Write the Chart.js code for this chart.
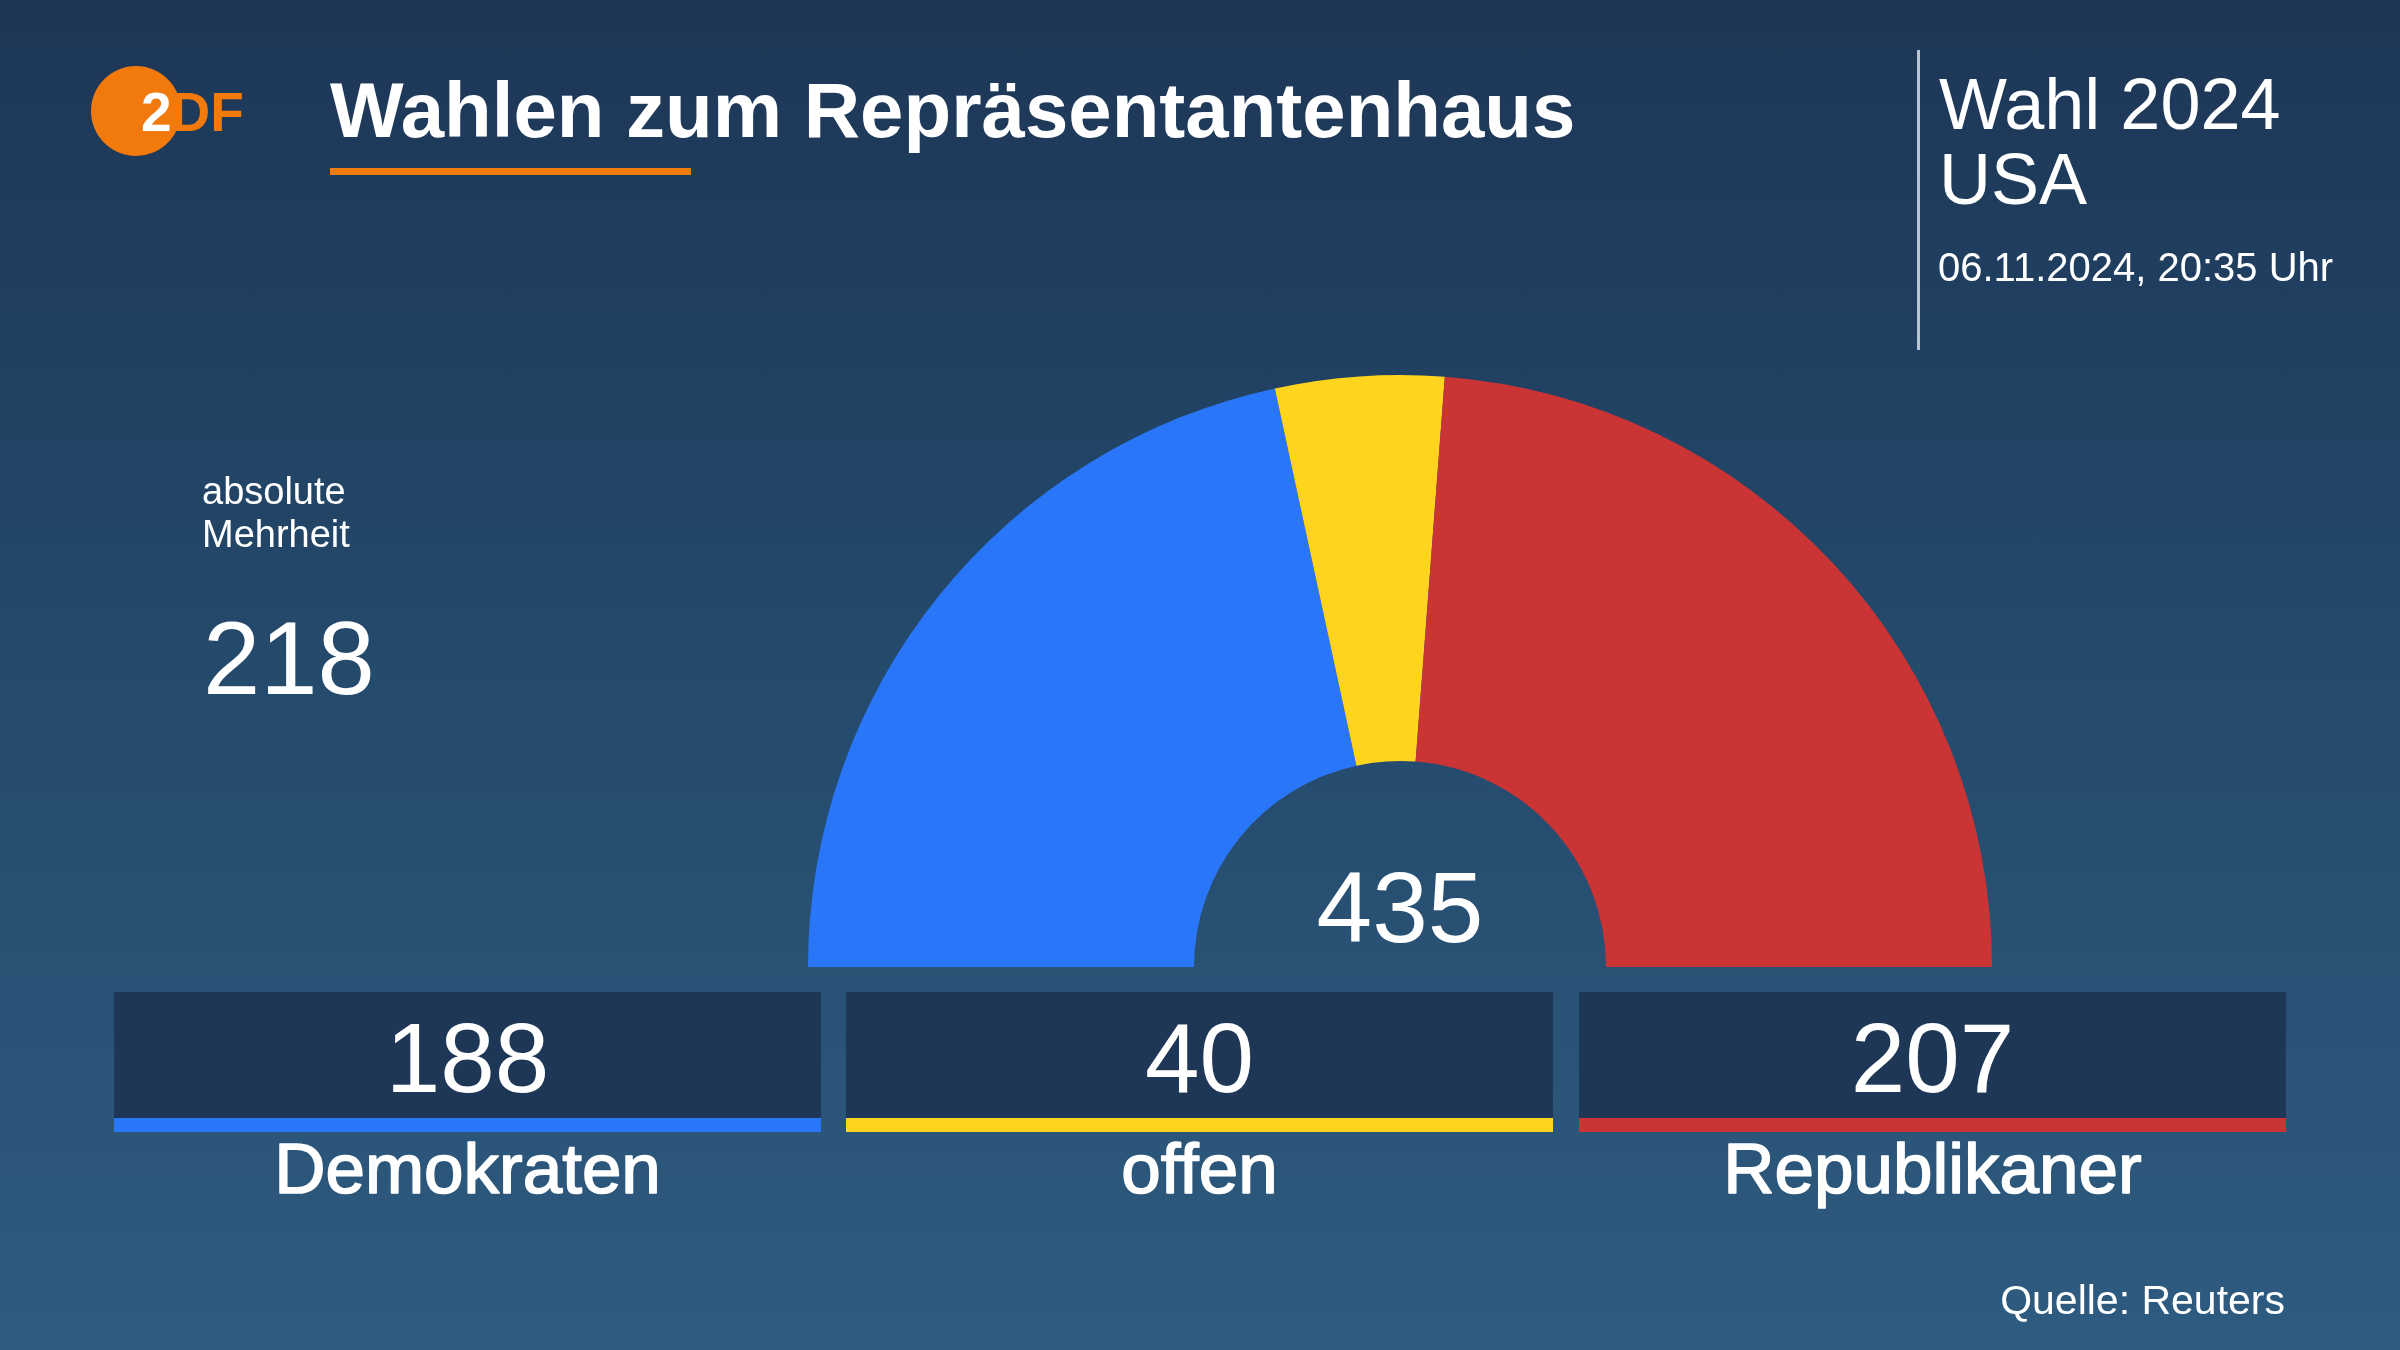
<!DOCTYPE html>
<html>
<head>
<meta charset="utf-8">
<script src="https://cdn.jsdelivr.net/npm/chart.js@4.4.1/dist/chart.umd.min.js"></script>
<style>
  html, body { margin: 0; padding: 0; }
  body {
    width: 2400px; height: 1350px; overflow: hidden;
    background: linear-gradient(180deg, #1d3656 0%, #244a6c 50%, #2e5b80 100%);
  }
  #wrap { position: absolute; left: 0; top: 0; width: 2400px; height: 1350px; }
</style>
</head>
<body>
<div id="wrap"><canvas id="c" width="2400" height="1350"></canvas></div>
<script>
// ---- data ----
const categories = ['Demokraten', 'offen', 'Republikaner'];
const seats = [188, 40, 207];
const seatColors = ['#2a76f8', '#fed41f', '#cb3435'];
const majority = 218;
const titleText = 'Wahlen zum Repräsentantenhaus';
const headerLines = ['Wahl 2024', 'USA'];
const dateText = '06.11.2024, 20:35 Uhr';
const majorityLabel = ['absolute', 'Mehrheit'];
const sourceText = 'Quelle: Reuters';

const FONT = '"Liberation Sans", Arial, sans-serif';
const ORANGE = '#f27a0c';

const overlay = {
  id: 'overlay',
  afterDraw(chart) {
    const ctx = chart.ctx;
    ctx.save();
    ctx.textBaseline = 'alphabetic';

    // logo
    ctx.fillStyle = ORANGE;
    ctx.beginPath();
    ctx.arc(136, 111, 45, 0, Math.PI * 2);
    ctx.fill();
    ctx.font = 'bold 55px ' + FONT;
    ctx.textAlign = 'left';
    ctx.fillStyle = '#ffffff';
    ctx.fillText('2', 141, 131);
    const w2 = ctx.measureText('2').width;
    ctx.fillStyle = ORANGE;
    ctx.fillText('DF', 141 + w2 - 1, 131);

    // title
    ctx.fillStyle = '#ffffff';
    ctx.font = 'bold 78px ' + FONT;
    ctx.fillText(titleText, 330, 137);
    ctx.fillStyle = ORANGE;
    ctx.fillRect(330, 168, 361, 7);

    // right header
    ctx.fillStyle = '#b9c4d0';
    ctx.fillRect(1917, 50, 3, 300);
    ctx.fillStyle = '#ffffff';
    ctx.font = '72px ' + FONT;
    ctx.fillText(headerLines[0], 1939, 129);
    ctx.fillText(headerLines[1], 1939, 204);
    ctx.font = '40px ' + FONT;
    ctx.fillText(dateText, 1938, 281);

    // majority
    ctx.font = '38px ' + FONT;
    ctx.fillText(majorityLabel[0], 202, 504);
    ctx.fillText(majorityLabel[1], 202, 547);
    ctx.font = '103px ' + FONT;
    ctx.fillText(String(majority), 203, 694);

    // total in center
    const meta = chart.getDatasetMeta(0);
    const arc = meta.data[0];
    const total = seats.reduce((a, b) => a + b, 0);
    ctx.textAlign = 'center';
    ctx.font = '100px ' + FONT;
    ctx.fillText(String(total), arc.x, 942);

    // boxes
    const boxX = [114, 846, 1579];
    const boxW = 707;
    categories.forEach((cat, i) => {
      const x = boxX[i];
      ctx.fillStyle = '#1e3756';
      ctx.fillRect(x, 992, boxW, 126);
      ctx.fillStyle = seatColors[i];
      ctx.fillRect(x, 1118, boxW, 14);
      ctx.fillStyle = '#ffffff';
      ctx.font = '98px ' + FONT;
      ctx.textAlign = 'center';
      ctx.fillText(String(seats[i]), x + boxW / 2, 1092);
      ctx.font = '71px ' + FONT;
      ctx.strokeStyle = '#ffffff';
      ctx.lineWidth = 1.6;
      ctx.lineJoin = 'round';
      ctx.fillText(cat, x + boxW / 2, 1193);
      ctx.strokeText(cat, x + boxW / 2, 1193);
    });

    // source
    ctx.textAlign = 'right';
    ctx.font = '41px ' + FONT;
    ctx.fillStyle = '#ffffff';
    ctx.fillText(sourceText, 2285, 1314);
    ctx.restore();
  }
};

new Chart(document.getElementById('c'), {
  type: 'doughnut',
  data: {
    labels: categories,
    datasets: [{
      data: seats,
      backgroundColor: seatColors,
      borderWidth: 0,
      hoverOffset: 0
    }]
  },
  options: {
    responsive: false,
    animation: false,
    rotation: -90,
    circumference: 180,
    cutout: '34.8%',
    layout: { padding: { left: 808, right: 408, top: 375, bottom: 383 } },
    plugins: { legend: { display: false }, tooltip: { enabled: false } }
  },
  plugins: [overlay]
});
</script>
</body>
</html>
